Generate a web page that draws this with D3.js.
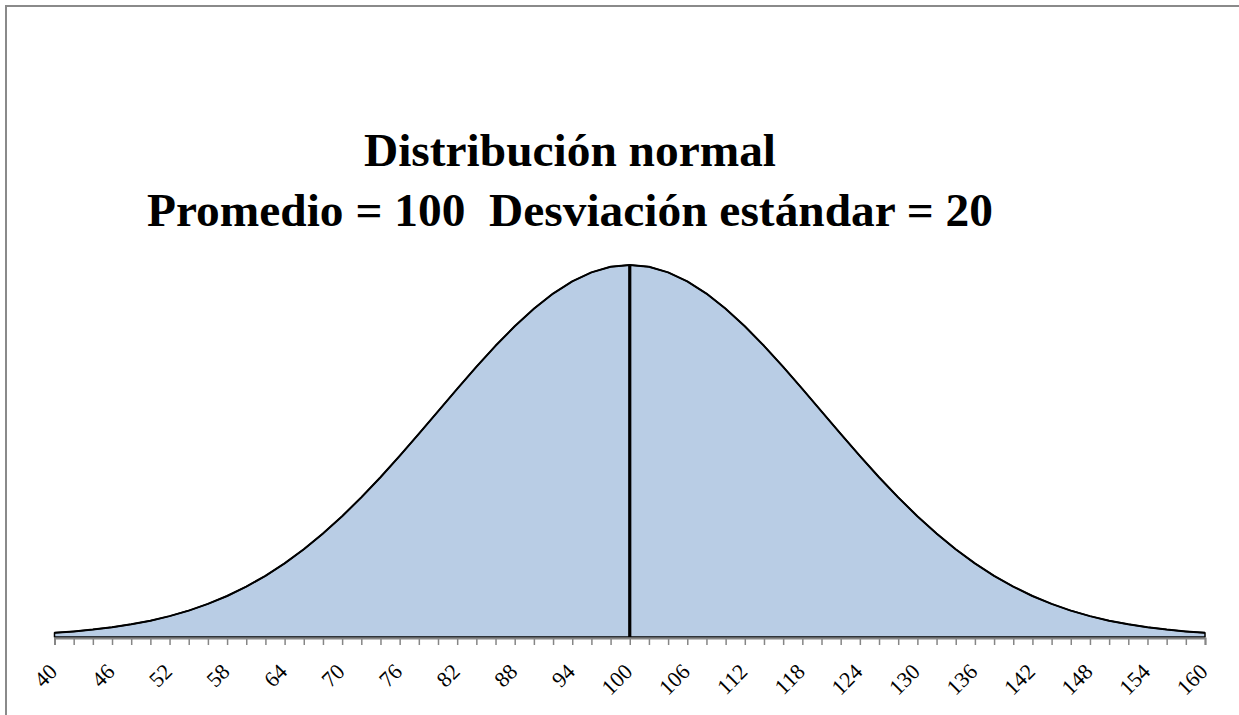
<!DOCTYPE html>
<html><head><meta charset="utf-8">
<script src="https://cdn.jsdelivr.net/npm/d3@7"></script>
<style>html,body{margin:0;padding:0;background:#fff;overflow:hidden} text{white-space:pre}</style>
</head><body>
<svg id="c" width="1239" height="715"></svg>
<script>
// Categories (x values, every 2 units) and densities
const categories = [40,42,44,46,48,50,52,54,56,58,60,62,64,66,68,70,72,74,76,78,80,82,84,86,88,90,92,94,96,98,100,
  102,104,106,108,110,112,114,116,118,120,122,124,126,128,130,132,134,136,138,140,142,144,146,148,150,152,154,156,158,160];
const density = [0.000222,0.000298,0.000396,0.000521,0.000679,0.000876,0.001120,0.001416,0.001774,0.002199,
  0.002700,0.003281,0.003947,0.004702,0.005546,0.006476,0.007486,0.008568,0.009709,0.010893,
  0.012098,0.013304,0.014485,0.015613,0.016661,0.017603,0.018414,0.019069,0.019552,0.019848,0.019947,
  0.019848,0.019552,0.019069,0.018414,0.017603,0.016661,0.015613,0.014485,0.013304,0.012098,
  0.010893,0.009709,0.008568,0.007486,0.006476,0.005546,0.004702,0.003947,0.003281,0.002700,
  0.002199,0.001774,0.001416,0.001120,0.000876,0.000679,0.000521,0.000396,0.000298,0.000222];
const tickLabels = [40,46,52,58,64,70,76,82,88,94,100,106,112,118,124,130,136,142,148,154,160];
const meanLine = [{x:100,y:0},{x:100,y:0.019947}];
const titleLines = ["Distribución normal","Promedio = 100  Desviación estándar = 20"];

const svg = d3.select("#c");
const x = d3.scaleLinear().domain([40,160]).range([54.5,1205]);
const y = d3.scaleLinear().domain([0,0.02]).range([637,264]);
const data = categories.map((c,i)=>({x:c,y:density[i]}));

// outer frame
svg.append("rect").attr("x",6).attr("y",6).attr("width",1400).attr("height",900)
  .attr("fill","none").attr("stroke","#8a8a8a").attr("stroke-width",2);

// area
svg.append("path").datum(data)
  .attr("d",d3.area().x(d=>x(d.x)).y0(y(0)).y1(d=>y(d.y)))
  .attr("fill","#B9CDE5").attr("stroke","#000").attr("stroke-width",1.5).attr("stroke-linejoin","round");
// curve line
svg.append("path").datum(data)
  .attr("d",d3.line().x(d=>x(d.x)).y(d=>y(d.y)))
  .attr("fill","none").attr("stroke","#000").attr("stroke-width",2).attr("stroke-linejoin","round");

// mean line
svg.append("path").datum(meanLine)
  .attr("d",d3.line().x(d=>x(d.x)).y(d=>y(d.y)))
  .attr("stroke","#000").attr("stroke-width",3.2);

// x axis
const ax = d3.axisBottom(x).tickValues(categories).tickSize(7).tickFormat("");
const g = svg.append("g").attr("transform",`translate(0,${y(0)+1})`).call(ax);
g.select(".domain").attr("stroke","#868686").attr("stroke-width",2);
g.selectAll(".tick line").attr("stroke","#868686").attr("stroke-width",1.5);

svg.append("g").selectAll("text").data(tickLabels).join("text")
  .attr("transform",d=>`translate(${x(d)+4},${673}) rotate(-45)`)
  .attr("text-anchor","end")
  .attr("font-family","'Liberation Serif','Times New Roman',serif")
  .attr("font-size",22).attr("fill","#000").text(d=>d);

// title
svg.append("g").selectAll("text").data(titleLines).join("text")
  .attr("x",570).attr("y",(d,i)=>166+i*60)
  .attr("text-anchor","middle")
  .attr("font-family","'Liberation Serif','Times New Roman',serif")
  .attr("font-weight","bold").attr("font-size",47.4).attr("fill","#000").text(d=>d);
</script>
</body></html>
